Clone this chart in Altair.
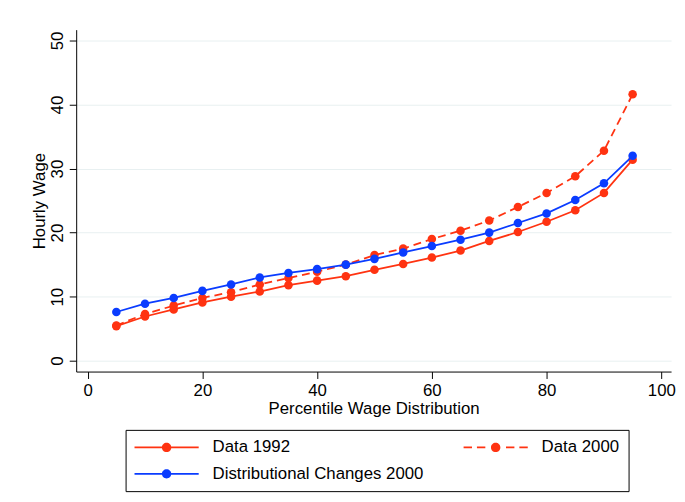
import altair as alt
import pandas as pd

# ---------------- data ----------------
percentiles = [5, 10, 15, 20, 25, 30, 35, 40, 45, 50, 55, 60, 65, 70, 75, 80, 85, 90, 95]
data_1992 = [5.4, 6.9, 8.0, 9.1, 10.0, 10.8, 11.8, 12.5, 13.2, 14.2,
             15.1, 16.1, 17.2, 18.7, 20.1, 21.7, 23.5, 26.2, 31.4]
data_2000 = [5.5, 7.3, 8.6, 9.8, 10.7, 11.9, 12.9, 13.9, 15.0, 16.5,
             17.5, 19.0, 20.3, 21.9, 24.0, 26.2, 28.8, 32.8, 41.6]
dist_2000 = [7.6, 8.9, 9.8, 10.9, 11.9, 13.0, 13.7, 14.3, 15.0, 15.9,
             16.9, 17.9, 18.9, 20.0, 21.5, 23.0, 25.1, 27.7, 32.0]
series_names = ["Data 1992", "Data 2000", "Distributional Changes 2000"]
series_colors = ["#ff3311", "#ff3311", "#0a3cff"]
x_ticks = [0, 20, 40, 60, 80, 100]
y_ticks = [0, 10, 20, 30, 40, 50]

rows = []
for name, vals in zip(series_names, [data_1992, data_2000, dist_2000]):
    for p, v in zip(percentiles, vals):
        rows.append({"pct": p, "wage": v, "series": name})
df = pd.DataFrame(rows)

FONT = "Liberation Sans"

# legend glyphs: line + dot (solid) and dashed line + dot
solid_path = ("M-3.82,-0.106H-0.45V0.106H-3.82Z "
              "M0.45,-0.106H3.82V0.106H0.45Z "
              "M0.56,0A0.56,0.56,0,1,1,-0.56,0A0.56,0.56,0,1,1,0.56,0Z")
dashed_path = ("M-3.82,-0.106H-2.82V0.106H-3.82Z "
               "M-2.23,-0.106H-1.23V0.106H-2.23Z "
               "M1.23,-0.106H2.23V0.106H1.23Z "
               "M2.82,-0.106H3.82V0.106H2.82Z "
               "M0.56,0A0.56,0.56,0,1,1,-0.56,0A0.56,0.56,0,1,1,0.56,0Z")

x_enc = alt.X(
    "pct:Q",
    scale=alt.Scale(domain=[-2, 101.7], nice=False, zero=False),
    axis=alt.Axis(
        values=x_ticks, grid=False, tickSize=7, tickColor="black", domainColor="black",
        labelFont=FONT, labelFontSize=17, labelColor="black", labelFlush=False,
        labelBaseline="alphabetic", labelPadding=17, labelOverlap=False,
        title="Percentile Wage Distribution", titleFont=FONT, titleFontSize=17,
        titleFontWeight="normal", titleColor="black", titleX=301, titleY=42,
        titleBaseline="alphabetic", titleAlign="center",
    ),
)
y_enc = alt.Y(
    "wage:Q",
    scale=alt.Scale(domain=[-1.7, 51.7], nice=False, zero=False),
    axis=alt.Axis(
        values=y_ticks, grid=True, gridColor="#e8f0f1", gridWidth=1,
        tickSize=7, tickColor="black", domainColor="black",
        labelFont=FONT, labelFontSize=17, labelColor="black", labelAngle=270,
        labelAlign="center", labelBaseline="alphabetic", labelPadding=7,
        labelOverlap=False,
        title="Hourly Wage", titleFont=FONT, titleFontSize=17, titleFontWeight="normal",
        titleColor="black", titleAngle=270, titleX=-32, titleY=173,
        titleBaseline="alphabetic", titleAlign="center",
    ),
)
color_scale = alt.Scale(domain=series_names, range=series_colors)

layers = []
for name, col in zip(series_names, series_colors):
    base = alt.Chart(df).transform_filter(alt.datum.series == name)
    line_kwargs = {"strokeWidth": 1.8, "color": col}
    if name == "Data 2000":
        line_kwargs["strokeDash"] = [8, 5]
    line = base.mark_line(**line_kwargs).encode(x=x_enc, y=y_enc)
    pts = base.mark_circle(size=75, opacity=1, color=col).encode(x=x_enc, y=y_enc)
    layers += [line, pts]

legend_def = alt.Legend(
    title=None, orient="none", legendX=50, legendY=405, columns=2,
    direction="horizontal",
    strokeColor="black", fillColor="white", padding=9,
    labelFont=FONT, labelFontSize=17, labelColor="black", labelLimit=400,
    labelOffset=38, symbolOffset=24, symbolSize=289, symbolStrokeWidth=0,
    symbolOpacity=1, columnPadding=40, rowPadding=9,
)
legend_layer = alt.Chart(df).mark_point(filled=True, opacity=0, size=1).encode(
    x=x_enc, y=y_enc,
    color=alt.Color("series:N", scale=color_scale, legend=legend_def),
    shape=alt.Shape("series:N",
                    scale=alt.Scale(domain=series_names,
                                    range=[solid_path, dashed_path, solid_path]),
                    legend=legend_def),
)
layers.append(legend_layer)

chart = alt.layer(*layers).properties(
    width=602, height=346,
    autosize=alt.AutoSizeParams(type="none"),
    padding={"left": 69, "top": 19, "right": 6, "bottom": 122},
    background="white",
).configure_view(stroke=None)

chart.save("out.html", embed_options={"renderer": "svg", "actions": False})
